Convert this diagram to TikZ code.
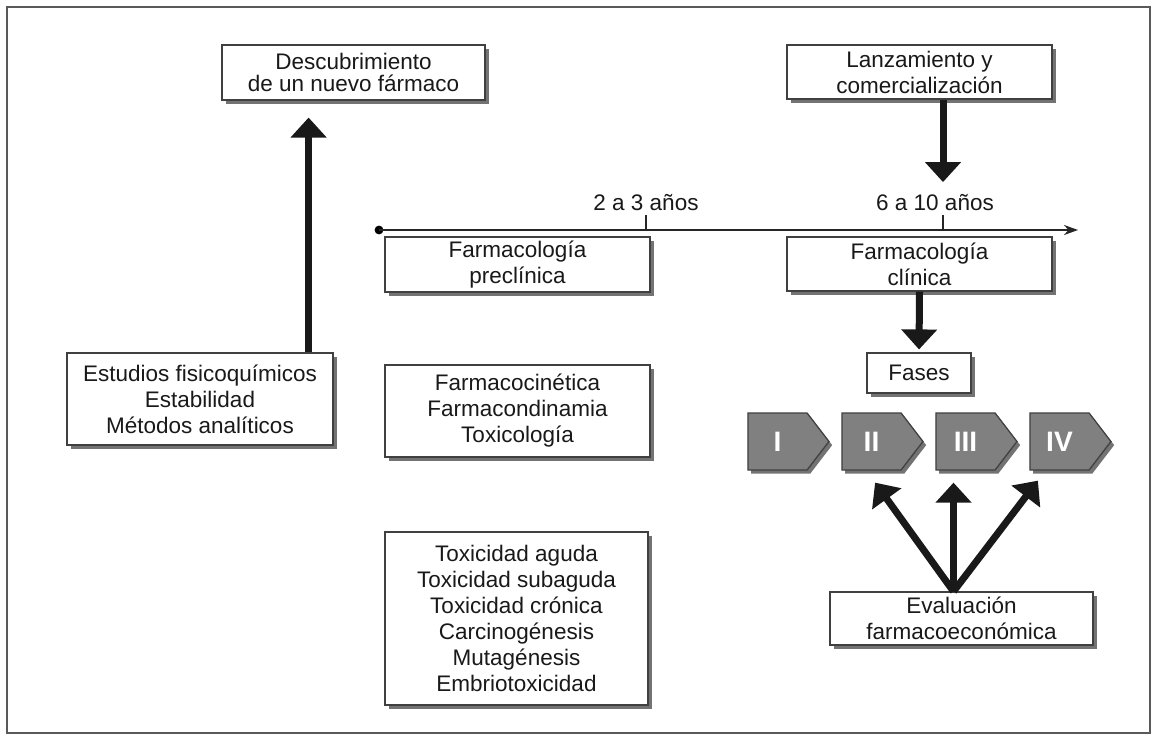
\documentclass[tikz,border=0pt]{standalone}
\usepackage{fontspec}
\setmainfont{Liberation Sans}
\usetikzlibrary{arrows.meta,shapes.symbols,shadows,positioning}

\tikzset{
  box/.style={draw=black!75, line width=0.8pt, fill=white, align=center,
    text=black!90, font=\fontsize{16}{18.5}\selectfont, inner sep=2pt,
    drop shadow={shadow xshift=0.09cm, shadow yshift=-0.11cm, fill=black, opacity=0.55}},
  phase/.style={shape=signal, signal to=east, signal pointer angle=105,
    draw=black!75, line width=0.9pt, fill=black!50, text=white,
    font=\fontsize{20}{20}\selectfont\bfseries, inner sep=0pt,
    minimum width=2.025cm, minimum height=1.425cm,
    drop shadow={shadow xshift=0.08cm, shadow yshift=-0.09cm, fill=black, opacity=0.55}},
  bigarrow/.style={line width=0.175cm, draw=black!90,
    -{Triangle[width=0.875cm,length=0.5cm]}},
  year/.style={font=\fontsize{16}{18.5}\selectfont, text=black!90, inner sep=0pt},
  tick/.style={line width=0.04cm, draw=black!85}
}

\begin{document}
\begin{tikzpicture}[x=0.025cm, y=-0.025cm]
  \useasboundingbox[fill=white] (0,0) rectangle (1156,737);
  \draw[draw=black!65, line width=0.05cm] (7,7) rectangle (1150,733);

  % upper boxes
  \node[box, minimum width=6.575cm, minimum height=1.375cm, font=\fontsize{16}{15.5}\selectfont] (desc) at (353.5,72.5) {Descubrimiento\\de un nuevo f\'armaco};
  \node[box, minimum width=6.625cm, minimum height=1.35cm] (lanz) at (919.5,72) {Lanzamiento y\\comercializaci\'on};

  % time line
  \node[circle, fill=black, inner sep=0pt, minimum size=0.22cm] (t0) at (379,230) {};
  \coordinate (tend) at (1078,230);
  \coordinate (t1) at (646,230);
  \coordinate (t2) at (943,230);
  \draw[line width=0.05cm, draw=black!85, -{Stealth[length=0.35cm,width=0.25cm]}] (t0.center) -- (tend);
  \node[year, above=0.475cm of t1] (yr1) {2 a 3 a\~nos};
  \node[year, above=0.475cm of t2, xshift=-0.2cm] (yr2) {6 a 10 a\~nos};
  \draw[tick] (t1) -- ([yshift=-0.1cm]yr1.south -| t1);
  \draw[tick] (t2) -- ([yshift=-0.1cm]yr2.south -| t2);

  % pharmacology boxes
  \node[box, minimum width=6.625cm, minimum height=1.375cm] (precl) at (517.5,264.5) {Farmacolog\'ia\\precl\'inica};
  \node[box, minimum width=6.625cm, minimum height=1.35cm] (clin) at (919.5,264) {Farmacolog\'ia\\cl\'inica};
  \node[box, minimum width=2.6cm, minimum height=1.0cm] (fases) at (919,373) {Fases};

  \node[box, minimum width=6.65cm, minimum height=2.3cm] (estud) at (200,399) {Estudios fisicoqu\'imicos\\Estabilidad\\M\'etodos anal\'iticos};
  \node[box, minimum width=6.625cm, minimum height=2.3cm] (fcin) at (517.5,411) {Farmacocin\'etica\\Farmacondinamia\\Toxicolog\'ia};
  \node[box, minimum width=6.575cm, minimum height=4.325cm] (tox) at (516.5,618.5) {Toxicidad aguda\\Toxicidad subaguda\\Toxicidad cr\'onica\\Carcinog\'enesis\\Mutag\'enesis\\Embriotoxicidad};
  \node[box, minimum width=6.575cm, minimum height=1.325cm] (eval) at (961.5,618.5) {Evaluaci\'on\\farmacoecon\'omica};

  % phases
  \node[phase] (f1) at (777.5,441.5) {I};
  \node[phase] (f2) at (871.5,441.5) {II};
  \node[phase] (f3) at (965.5,441.5) {III};
  \node[phase] (f4) at (1059.5,441.5) {IV};

  % arrows
  \coordinate (up) at ([xshift=-0.625cm]estud.north east);
  \draw[bigarrow, shorten >=0.425cm] (up) -- (up |- desc.south);
  \draw[bigarrow] (lanz.south -| t2) -- ([yshift=0.3cm]yr2.north -| t2);
  \draw[bigarrow, shorten >=0.075cm] (clin.south) -- (fases.north);
  \coordinate (ev) at ([xshift=-0.2cm]eval.north);
  \draw[bigarrow] (ev) -- ([xshift=0.09cm,yshift=-0.3cm]f2.south);
  \draw[bigarrow, shorten >=0.3cm] (ev) -- (ev |- f3.south);
  \draw[bigarrow] (ev) -- ([xshift=-0.54cm,yshift=-0.25cm]f4.south);
\end{tikzpicture}
\end{document}
